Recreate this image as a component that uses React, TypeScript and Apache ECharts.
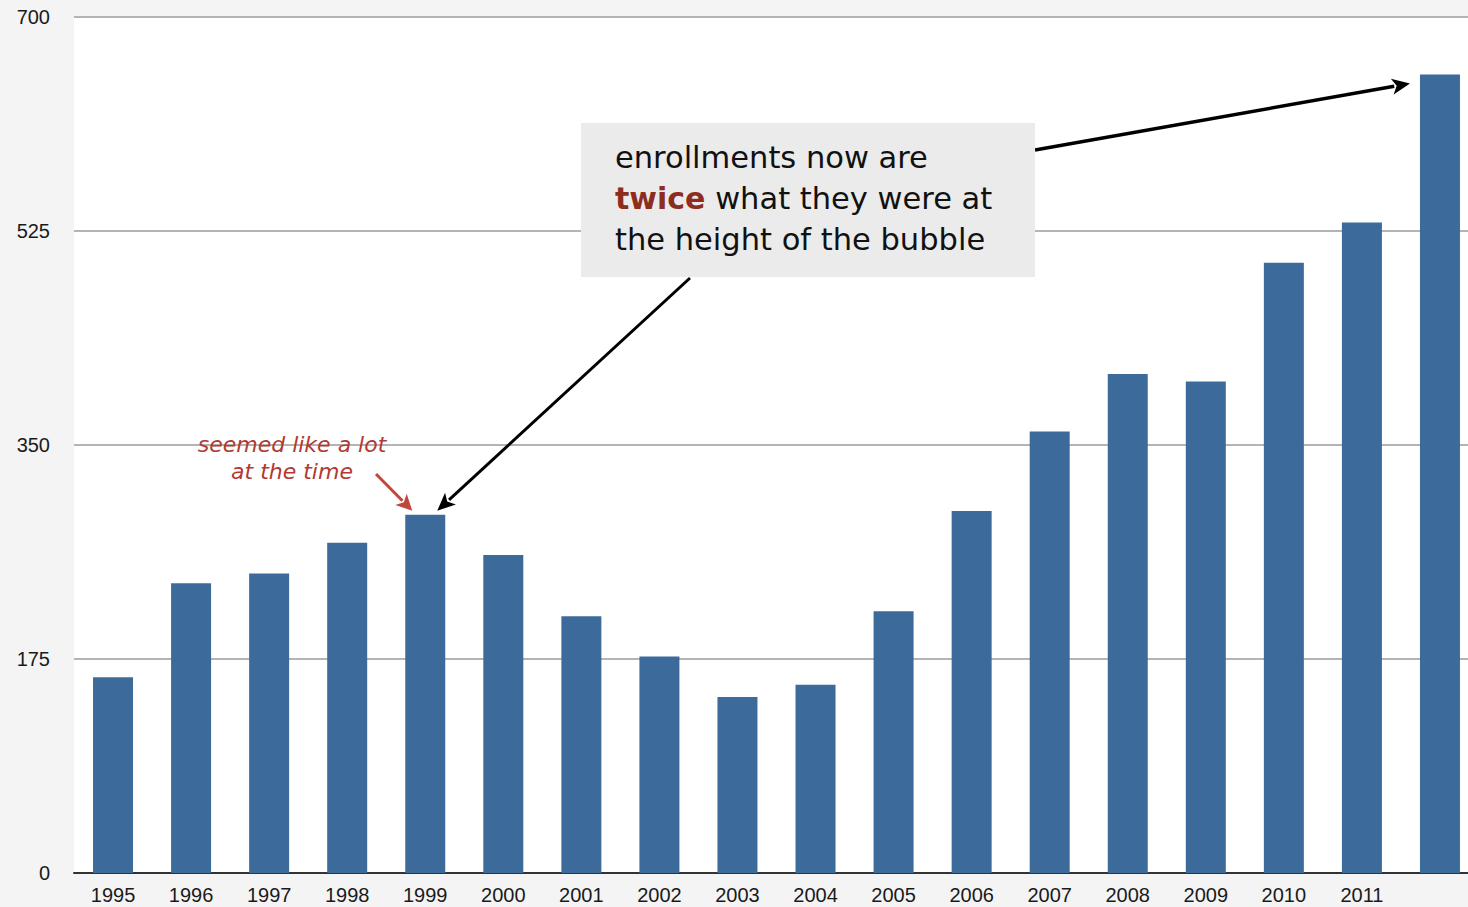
import React, { useEffect, useRef } from 'react';
import * as echarts from 'echarts';

const years = ['1995', '1996', '1997', '1998', '1999', '2000', '2001', '2002', '2003', '2004', '2005', '2006', '2007', '2008', '2009', '2010', '2011', ''];
const enrollments = [160, 237, 245, 270, 293, 260, 210, 177, 144, 154, 214, 296, 361, 408, 402, 499, 532, 653];
const yMin = 0;
const yMax = 700;
const yStep = 175;

const bubbleLines = ['enrollments now are', '{b|twice} what they were at', 'the height of the bubble'];
const noteLines = ['seemed like a lot', 'at the time'];

function arrow(x1: number, y1: number, x2: number, y2: number, color: string, lw: number, headLen: number, headW: number) {
  const dx = x2 - x1;
  const dy = y2 - y1;
  const len = Math.sqrt(dx * dx + dy * dy);
  const ux = dx / len;
  const uy = dy / len;
  const bx = x2 - ux * headLen;
  const by = y2 - uy * headLen;
  const px = -uy;
  const py = ux;
  return [
    {
      type: 'line',
      silent: true,
      shape: { x1, y1, x2: bx + ux * 2, y2: by + uy * 2 },
      style: { stroke: color, lineWidth: lw },
      z: 10,
    },
    {
      type: 'polygon',
      silent: true,
      shape: {
        points: [
          [x2, y2],
          [bx + px * headW, by + py * headW],
          [bx + ux * headLen * 0.25, by + uy * headLen * 0.25],
          [bx - px * headW, by - py * headW],
        ],
      },
      style: { fill: color },
      z: 10,
    },
  ];
}

export default function App() {
  const ref = useRef<HTMLDivElement>(null);
  useEffect(() => {
    if (!ref.current) return;
    const chart = echarts.init(ref.current, null, { renderer: 'svg' });
    chart.setOption({
      animation: false,
      backgroundColor: '#f4f4f4',
      grid: {
        left: 74,
        top: 17,
        width: 1405,
        height: 856,
        show: true,
        backgroundColor: '#ffffff',
        borderWidth: 0,
      },
      xAxis: {
        type: 'category',
        data: years,
        axisLine: { lineStyle: { color: '#333', width: 2 } },
        axisTick: { show: false },
        axisLabel: {
          color: '#1a1a1a',
          fontSize: 20,
          fontFamily: 'Liberation Sans, Arial, sans-serif',
          margin: 12,
        },
      },
      yAxis: {
        type: 'value',
        min: yMin,
        max: yMax,
        interval: yStep,
        axisLine: { show: false },
        axisTick: { show: false },
        splitLine: { lineStyle: { color: '#b4b4b4', width: 2 } },
        axisLabel: {
          color: '#1a1a1a',
          fontSize: 20,
          fontFamily: 'Liberation Sans, Arial, sans-serif',
          margin: 24,
        },
      },
      series: [
        {
          type: 'bar',
          data: enrollments,
          barWidth: 40,
          itemStyle: { color: '#3c6b9b' },
          z: 2,
        },
      ],
    });

    const p1999 = chart.convertToPixel({ gridIndex: 0 }, [4, enrollments[4]]) as number[];
    const pLast = chart.convertToPixel({ gridIndex: 0 }, [17, enrollments[17]]) as number[];

    const noteTexts = noteLines.map((t, i) => ({
      type: 'text',
      silent: true,
      x: 292,
      y: 444 + i * 27,
      z: 12,
      style: {
        text: t,
        fill: '#b23a30',
        font: 'italic 22px "DejaVu Sans", sans-serif',
        align: 'center',
        verticalAlign: 'middle',
      },
    }));

    const graphics: any[] = [
      {
        type: 'rect',
        silent: true,
        shape: { x: 581, y: 123, width: 454, height: 154 },
        style: { fill: '#ebebeb' },
        z: 11,
      },
      {
        type: 'text',
        silent: true,
        x: 615,
        y: 198,
        z: 12,
        style: {
          text: bubbleLines.join('\n'),
          fill: '#111',
          font: '30.5px "DejaVu Sans", sans-serif',
          lineHeight: 41,
          align: 'left',
          verticalAlign: 'middle',
          rich: {
            b: {
              fill: '#8e2c20',
              fontWeight: 'bold',
              fontSize: 30,
              fontFamily: 'DejaVu Sans',
              lineHeight: 41,
            },
          },
        },
      },
      ...noteTexts,
      ...arrow(376, 474, p1999[0] - 13, p1999[1] - 4, '#c0473c', 3, 16, 8),
      ...arrow(690, 278, p1999[0] + 12, p1999[1] - 4, '#000', 3, 18, 8),
      ...arrow(1035, 150, pLast[0] - 30, pLast[1] + 9, '#000', 3.5, 18, 8),
    ];
    chart.setOption({ graphic: graphics });

    return () => chart.dispose();
  }, []);
  return <div ref={ref} style={{ position: 'fixed', left: 0, top: 0, width: 1480, height: 907 }} />;
}
